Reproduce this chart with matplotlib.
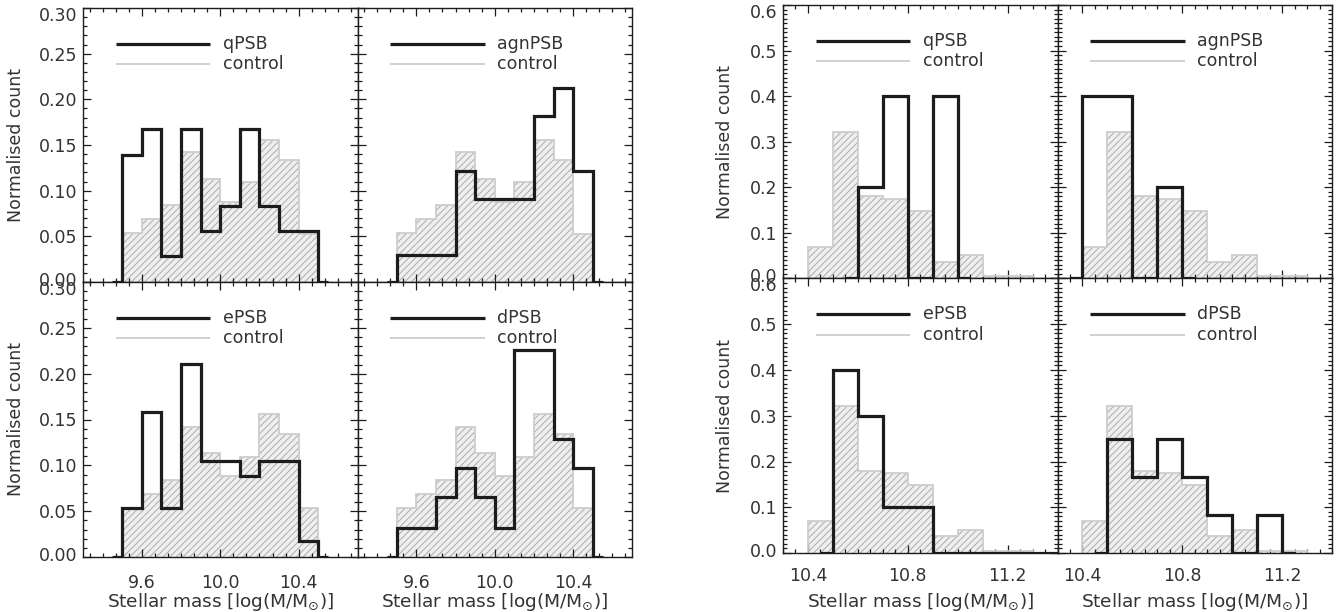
import numpy as np
import matplotlib
matplotlib.use("Agg")
import matplotlib.pyplot as plt
from matplotlib.ticker import MultipleLocator, FixedLocator, FormatStrFormatter
from matplotlib.transforms import ScaledTranslation

# ---------------- data ----------------
bin_width = 0.1

# low-mass sample (left block)
low_control_start = 9.5
low_control = [0.054, 0.069, 0.084, 0.142, 0.113, 0.088, 0.109, 0.156, 0.134, 0.053]
low_qPSB_start = 9.5
low_qPSB = [0.139, 0.167, 0.028, 0.167, 0.056, 0.083, 0.167, 0.083, 0.056, 0.056]
low_agnPSB_start = 9.5
low_agnPSB = [0.030, 0.030, 0.030, 0.121, 0.091, 0.091, 0.091, 0.182, 0.212, 0.121]
low_ePSB_start = 9.5
low_ePSB = [0.053, 0.158, 0.053, 0.211, 0.105, 0.105, 0.088, 0.105, 0.105, 0.018]
low_dPSB_start = 9.5
low_dPSB = [0.032, 0.032, 0.065, 0.097, 0.065, 0.032, 0.226, 0.226, 0.129, 0.097]

# high-mass sample (right block)
high_control_start = 10.4
high_control = [0.070, 0.322, 0.180, 0.174, 0.148, 0.037, 0.051, 0.005, 0.005]
high_qPSB_start = 10.6
high_qPSB = [0.2, 0.4, 0.0, 0.4]
high_agnPSB_start = 10.4
high_agnPSB = [0.4, 0.4, 0.0, 0.2]
high_ePSB_start = 10.5
high_ePSB = [0.4, 0.3, 0.1, 0.1, 0.0, 0.0, 0.0, 0.0, 0.0, 0.0]
high_dPSB_start = 10.5
high_dPSB = [0.25, 0.167, 0.25, 0.167, 0.083, 0.0, 0.083]

labels_grid = [["qPSB", "agnPSB"], ["ePSB", "dPSB"]]
low_series = [[(low_qPSB_start, low_qPSB), (low_agnPSB_start, low_agnPSB)],
              [(low_ePSB_start, low_ePSB), (low_dPSB_start, low_dPSB)]]
high_series = [[(high_qPSB_start, high_qPSB), (high_agnPSB_start, high_agnPSB)],
               [(high_ePSB_start, high_ePSB), (high_dPSB_start, high_dPSB)]]

low_xticks = [9.6, 10.0, 10.4]
high_xticks = [10.4, 10.8, 11.2]
low_yticks = [0.0, 0.05, 0.10, 0.15, 0.20, 0.25, 0.30]
high_yticks = [0.0, 0.1, 0.2, 0.3, 0.4, 0.5, 0.6]

# ---------------- style ----------------
plt.rcParams['font.family'] = ['DejaVu Sans']
plt.rcParams['hatch.linewidth'] = 0.7
plt.rcParams['hatch.color'] = '#ababab'
TXT = '#333333'
FS_TICK = 12.5
FS_YLAB = 12.5
FS_XLAB = 13.3

W, H = 1339, 612
fig = plt.figure(figsize=(W / 100, H / 100), dpi=100)


def axes_px(x0, y0, x1, y1):
    return fig.add_axes([x0 / W, 1 - y1 / H, (x1 - x0) / W, (y1 - y0) / H])


def edges_for(start, n):
    return start + bin_width * np.arange(n + 1)


def draw_panel(ax, control_start, control, start, vals, name):
    ce = edges_for(control_start, len(control))
    ax.stairs(control, ce, baseline=0, fill=True, facecolor='#efefef',
              edgecolor='#ababab', hatch='/////', linewidth=0, zorder=1)
    ax.stairs(control, ce, baseline=0, fill=False, color='#cdcdcd',
              linewidth=1.3, zorder=2)
    e = edges_for(start, len(vals))
    ep = np.concatenate([[e[0] - bin_width / 2], e, [e[-1] + bin_width / 2]])
    vp = np.concatenate([[0.0], vals, [0.0]])
    ax.stairs(vp, ep, baseline=None, color='#1c1c1c', linewidth=2.3, zorder=3)
    # legend
    ax.plot([0.12, 0.464], [0.87, 0.87], transform=ax.transAxes,
            color='#1c1c1c', lw=2.3, solid_capstyle='butt', zorder=4)
    ax.plot([0.12, 0.464], [0.795, 0.795], transform=ax.transAxes,
            color='#cdcdcd', lw=1.3, solid_capstyle='butt', zorder=4)
    ax.text(0.51, 0.87, name, transform=ax.transAxes, va='center', ha='left',
            fontsize=FS_TICK, color=TXT)
    ax.text(0.51, 0.795, 'control', transform=ax.transAxes, va='center',
            ha='left', fontsize=FS_TICK, color=TXT)


def style_axes(ax, xlim, ylim, xticks, yticks, xminor, yminor, yfmt,
               show_x, show_y, ylab_x, xlab_y, xpad):
    ax.set_xlim(*xlim)
    ax.set_ylim(*ylim)
    ax.xaxis.set_major_locator(FixedLocator(xticks))
    ax.yaxis.set_major_locator(FixedLocator(yticks))
    ax.xaxis.set_minor_locator(MultipleLocator(xminor))
    ax.yaxis.set_minor_locator(MultipleLocator(yminor))
    ax.yaxis.set_major_formatter(FormatStrFormatter(yfmt))
    ax.xaxis.set_major_formatter(FormatStrFormatter('%.1f'))
    ax.tick_params(which='both', direction='in', top=True, right=True,
                   colors='#1c1c1c', labelcolor=TXT, labelsize=FS_TICK,
                   width=0.9)
    ax.tick_params(which='major', length=5.5)
    ax.tick_params(which='minor', length=2.6)
    ax.tick_params(axis='x', which='major', pad=xpad)
    ax.tick_params(axis='y', which='major', pad=4)
    for s in ax.spines.values():
        s.set_linewidth(1.0)
        s.set_color('#1c1c1c')
        s.set_zorder(5)
    if not show_x:
        ax.tick_params(axis='x', labelbottom=False)
    else:
        ax.set_xlabel(r'Stellar mass [log(M/M$_{\odot}$)]', fontsize=FS_XLAB,
                      color=TXT)
        ax.xaxis.set_label_coords(0.5, xlab_y)
    if not show_y:
        ax.tick_params(axis='y', labelleft=False)
    else:
        ax.set_ylabel('Normalised count', fontsize=FS_YLAB, color=TXT)
        ax.yaxis.set_label_coords(ylab_x, 0.5)
        ticks = ax.yaxis.get_major_ticks()
        lab_top = ticks[-1].label1
        lab_top.set_transform(lab_top.get_transform() +
                              ScaledTranslation(0, -6 / 100, fig.dpi_scale_trans))
        lab_bot = ticks[0].label1
        lab_bot.set_transform(lab_bot.get_transform() +
                              ScaledTranslation(0, 3 / 100, fig.dpi_scale_trans))


blocks = [
    dict(x=[83, 357.5, 632], y=[8, 282, 557], series=low_series,
         cstart=low_control_start, control=low_control, xlim=(9.3, 10.7),
         ylim=(0, 0.30), xticks=low_xticks, yticks=low_yticks,
         xminor=0.4 / 6, yminor=0.01, yfmt='%.2f', ylab_x=-0.211,
         xlab_y=-0.125, xpad=12),
    dict(x=[783, 1057.5, 1332], y=[5, 278.5, 553], series=high_series,
         cstart=high_control_start, control=high_control, xlim=(10.3, 11.4),
         ylim=(0, 0.6), xticks=high_xticks, yticks=high_yticks,
         xminor=0.05, yminor=0.01, yfmt='%.1f', ylab_x=-0.178,
         xlab_y=-0.14, xpad=10),
]

for b in blocks:
    for r in range(2):
        for c in range(2):
            ax = axes_px(b['x'][c], b['y'][r], b['x'][c + 1], b['y'][r + 1])
            start, vals = b['series'][r][c]
            draw_panel(ax, b['cstart'], b['control'], start, vals,
                       labels_grid[r][c])
            style_axes(ax, b['xlim'], b['ylim'], b['xticks'], b['yticks'],
                       b['xminor'], b['yminor'], b['yfmt'],
                       show_x=(r == 1), show_y=(c == 0),
                       ylab_x=b['ylab_x'], xlab_y=b['xlab_y'], xpad=b['xpad'])

fig.savefig('out.png', dpi=100, facecolor='white')
